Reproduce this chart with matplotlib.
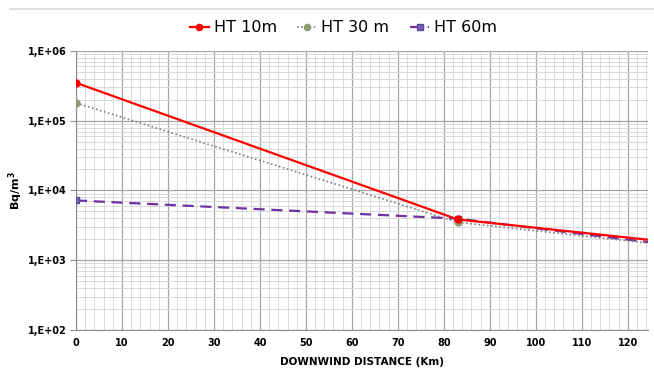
import matplotlib
matplotlib.use("Agg")
import matplotlib.pyplot as plt
from matplotlib.ticker import FixedLocator, LogLocator, MultipleLocator, NullFormatter
from matplotlib.lines import Line2D

# Ground deposition vs downwind distance for three release heights
distance = [0, 83, 125]
ht10 = [3.5e5, 3.85e3, 1.95e3]
ht30 = [1.8e5, 3.5e3, 1.75e3]
ht60 = [7.2e3, 3.95e3, 1.8e3]
ytick_vals = [1e2, 1e3, 1e4, 1e5, 1e6]
ytick_labels = ["1,E+02", "1,E+03", "1,E+04", "1,E+05", "1,E+06"]

fig = plt.figure(figsize=(6.54, 3.69), dpi=100)
ax = fig.add_axes([0.1162, 0.1057, 0.8746, 0.7561])

ax.plot(distance, ht10, color="#ff0000", lw=1.6, marker="o", ms=5,
        markevery=[0, 1], label="HT 10m", zorder=5)
ax.plot(distance, ht30, color="#808080", lw=1.2, ls=(0, (1, 1.5)), marker="o", ms=5,
        mfc="#8c9c74", mec="#8c9c74", markevery=[0, 1], label="HT 30 m", zorder=4)
ax.plot(distance, ht60, color="#7030a0", lw=1.6, ls=(0, (5, 3)), marker="s", ms=4.5,
        mfc="#7a5cb0", mec="#5a4a9a", markevery=[0, 1], label="HT 60m", zorder=3)

ax.set_yscale("log")
ax.set_ylim(1e2, 1e6)
ax.set_xlim(0, 124.4)
ax.yaxis.set_major_locator(FixedLocator(ytick_vals))
ax.set_yticklabels(ytick_labels)
ax.yaxis.set_minor_locator(LogLocator(base=10, subs=range(2, 10)))
ax.yaxis.set_minor_formatter(NullFormatter())
ax.xaxis.set_major_locator(MultipleLocator(10))
ax.xaxis.set_minor_locator(MultipleLocator(2))

ax.grid(which="major", color="#a6a6a6", lw=0.9)
ax.grid(which="minor", color="#d9d9d9", lw=0.7)
ax.set_axisbelow(True)

for s in ["top", "right"]:
    ax.spines[s].set_visible(False)
for s in ["left", "bottom"]:
    ax.spines[s].set_color("#8c8c8c")

ax.tick_params(which="both", length=0, pad=6)
ax.tick_params(which="major", axis="y", length=4, color="#8c8c8c", direction="out", pad=3)
for lab in ax.get_xticklabels() + ax.get_yticklabels():
    lab.set_fontsize(7)
    lab.set_fontweight("bold")

ax.set_xlabel("DOWNWIND DISTANCE (Km)", fontsize=7.5, fontweight="bold", labelpad=6)
ax.set_ylabel("Bq/m$^\\mathbf{3}$", fontsize=8, fontweight="bold", labelpad=2)

ax.legend(loc="center", bbox_to_anchor=(0.525, 0.925), bbox_transform=fig.transFigure,
          ncol=3, frameon=False, fontsize=11.5, handlelength=1.2, handletextpad=0.3,
          columnspacing=1.3, markerscale=0.9)

# light rule across the top of the chart area
fig.add_artist(Line2D([0.015, 1.0], [0.975, 0.975], color="#d9d9d9", lw=1.2))

fig.savefig("out.png", dpi=100)
